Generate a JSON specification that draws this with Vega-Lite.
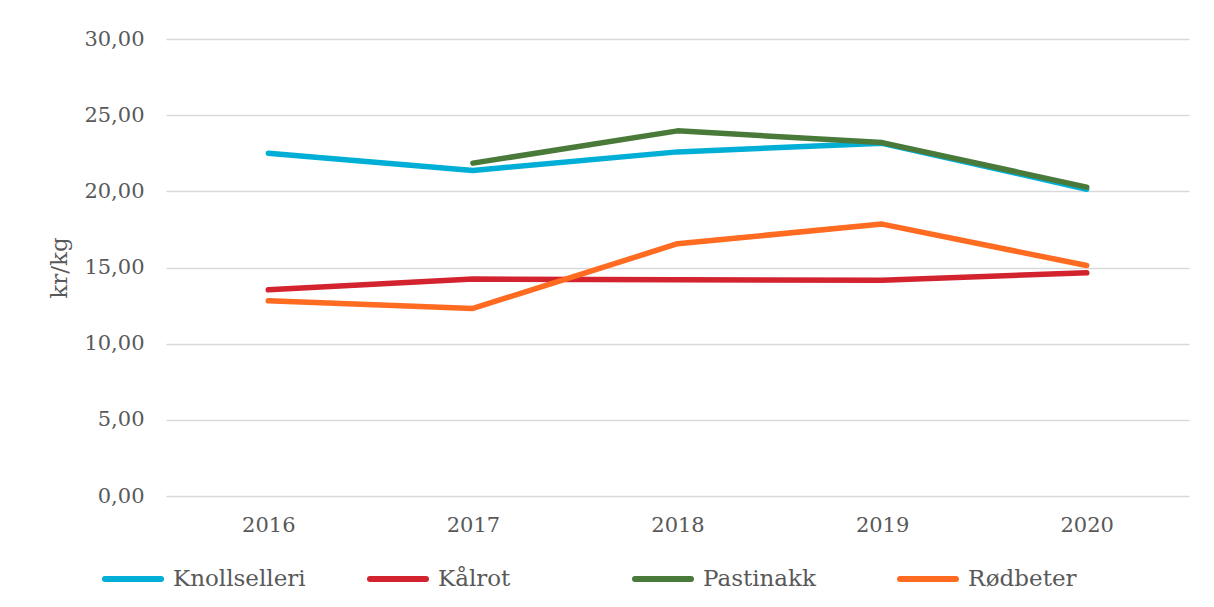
{
  "$schema": "https://vega.github.io/schema/vega-lite/v6.json",
  "width": 1023,
  "height": 457,
  "autosize": {"type": "none"},
  "padding": {"left": 166, "top": 39, "right": 25, "bottom": 111},
  "background": "white",
  "data": {
    "values": [
      {"year": "2016", "series": "Knollselleri", "value": 22.5},
      {"year": "2017", "series": "Knollselleri", "value": 21.37},
      {"year": "2018", "series": "Knollselleri", "value": 22.59},
      {"year": "2019", "series": "Knollselleri", "value": 23.16},
      {"year": "2020", "series": "Knollselleri", "value": 20.14},
      {"year": "2016", "series": "Kålrot", "value": 13.54},
      {"year": "2017", "series": "Kålrot", "value": 14.24},
      {"year": "2018", "series": "Kålrot", "value": 14.19},
      {"year": "2019", "series": "Kålrot", "value": 14.17},
      {"year": "2020", "series": "Kålrot", "value": 14.65},
      {"year": "2017", "series": "Pastinakk", "value": 21.85},
      {"year": "2018", "series": "Pastinakk", "value": 23.97},
      {"year": "2019", "series": "Pastinakk", "value": 23.2},
      {"year": "2020", "series": "Pastinakk", "value": 20.28},
      {"year": "2016", "series": "Rødbeter", "value": 12.81},
      {"year": "2017", "series": "Rødbeter", "value": 12.31},
      {"year": "2018", "series": "Rødbeter", "value": 16.56},
      {"year": "2019", "series": "Rødbeter", "value": 17.85},
      {"year": "2020", "series": "Rødbeter", "value": 15.13}
    ]
  },
  "mark": {"type": "line", "strokeWidth": 5.5, "strokeCap": "round", "strokeJoin": "round"},
  "encoding": {
    "x": {
      "field": "year",
      "type": "ordinal",
      "scale": {"padding": 0.5},
      "axis": {
        "title": null,
        "labelAngle": 0,
        "domain": false,
        "ticks": false,
        "grid": false,
        "labelPadding": 18,
        "labelFont": "DejaVu Serif",
        "labelFontSize": 21,
        "labelColor": "#595959"
      }
    },
    "y": {
      "field": "value",
      "type": "quantitative",
      "scale": {"domain": [0, 30], "nice": false},
      "axis": {
        "title": "kr/kg",
        "values": [0, 5, 10, 15, 20, 25, 30],
        "labelExpr": "replace(format(datum.value, '.2f'), '.', ',')",
        "domain": false,
        "ticks": false,
        "grid": true,
        "gridColor": "#D9D9D9",
        "gridWidth": 1.5,
        "labelPadding": 22,
        "labelFont": "DejaVu Serif",
        "labelFontSize": 21,
        "labelColor": "#595959",
        "titleFont": "DejaVu Serif",
        "titleFontSize": 23,
        "titleFontWeight": "normal",
        "titleColor": "#595959",
        "titlePadding": 12
      }
    },
    "color": {
      "field": "series",
      "type": "nominal",
      "scale": {
        "domain": ["Knollselleri", "Kålrot", "Pastinakk", "Rødbeter"],
        "range": ["#00AED6", "#D2232F", "#4A7A3A", "#FF6B21"]
      },
      "legend": {
        "title": null,
        "orient": "none",
        "legendX": -64,
        "legendY": 509,
        "direction": "horizontal",
        "columns": 4,
        "gridAlign": "all",
        "columnPadding": 52,
        "symbolType": "stroke",
        "symbolSize": 3136,
        "symbolStrokeWidth": 6,
        "labelFont": "DejaVu Serif",
        "labelFontSize": 23,
        "labelColor": "#595959",
        "labelOffset": 9,
        "labelLimit": 300,
        "encode": {"symbols": {"update": {"strokeCap": {"value": "round"}}}}
      }
    }
  },
  "config": {"view": {"stroke": null}}
}
